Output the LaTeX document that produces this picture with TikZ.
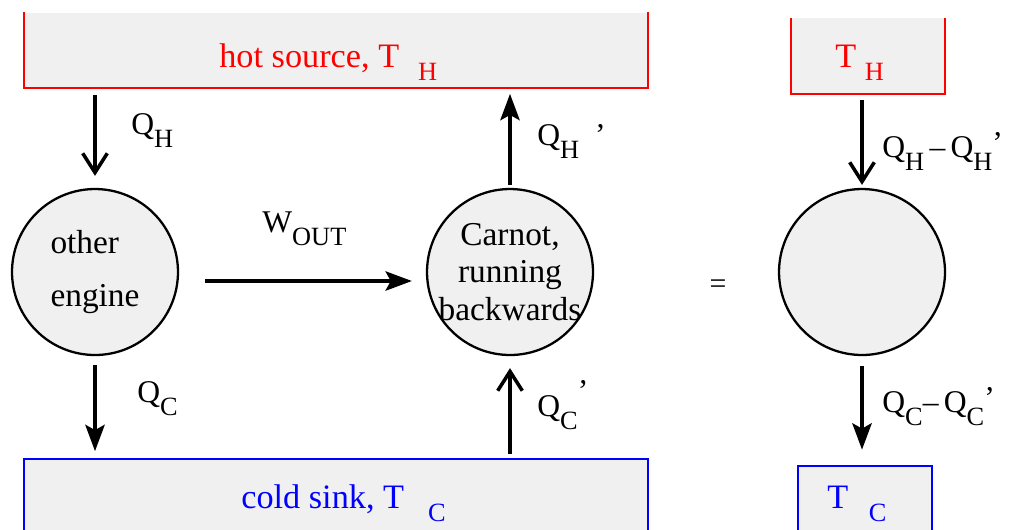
\documentclass[tikz,border=0pt]{standalone}
\usepackage{fontspec}
\setmainfont{Liberation Serif}
\usetikzlibrary{positioning,arrows.meta}

\newcommand{\lowsub}[1]{\raisebox{-7.5pt}{\fontsize{15}{15}\selectfont #1}}
\newcommand{\primesub}[1]{\raisebox{-7.5pt}{\fontsize{15}{15}\selectfont #1}\raisebox{2pt}{’}}

\begin{document}
\begin{tikzpicture}[
    x=0.02cm, y=-0.02cm,
    font=\fontsize{19.5}{23}\selectfont,
    reservoir/.style={fill=gray!12, minimum height=#1, inner sep=0pt},
    resname/.style={anchor=base west, inner sep=0pt, text=#1},
    engine/.style={circle, draw, fill=gray!12, line width=1.3pt, minimum size=3.32cm, inner sep=-0.4cm, align=center},
    flowlabel/.style={anchor=base west, font=\fontsize{18}{18}\selectfont, inner sep=0pt},
    solidflow/.style={line width=2pt, -{Stealth[length=15pt, width=11pt, inset=3pt]}},
    openflow/.style={line width=2pt, -{Straight Barb[length=11pt, width=14pt, line width=2pt]}},
]
    \clip (0,0) rectangle (1016,529);

    % reservoirs
    \node[reservoir=1.5cm, minimum width=12.46cm] (hot) at (336,50) {};
    \node[reservoir=1.5cm, minimum width=12.46cm] (cold) at (336,497) {};
    \node[reservoir=1.52cm, minimum width=3.06cm] (thot) at (868,56) {};
    \node[reservoir=1.48cm, minimum width=2.68cm] (tcold) at (865,503) {};
    \draw[red, line width=1.3pt] (hot.north west) |- (hot.south east) -- (hot.north east);
    \draw[red, line width=1.3pt] (thot.north west) |- (thot.south east) -- (thot.north east);
    \draw[blue, line width=1.3pt] (cold.south west) |- (cold.north east) -- (cold.south east);
    \draw[blue, line width=1.3pt] (tcold.south west) |- (tcold.north east) -- (tcold.south east);

    \node[resname=red] (hotname) at (219,67) {hot source, T\hspace{0.55em}\lowsub{H}};
    \node[resname=blue] (coldname) at (241,508) {cold sink, T\hspace{0.7em}\lowsub{C}};
    \node[resname=red] (thotname) at (835,67) {T\hspace{0.25em}\lowsub{H}};
    \node[resname=blue] (tcoldname) at (827,508) {T\hspace{0.6em}\lowsub{C}};

    % engines
    \node[engine, align=left, font=\fontsize{19}{30}\selectfont] (other) at (95,272) {other\\engine};
    \node[engine, font=\fontsize{19}{21.5}\selectfont] (carnot) at (510,272) {Carnot,\\running\\backwards};
    \node[engine] (net) at (862,272) {};
    \node (eq) at (718,287) {\fontsize{17}{17}\selectfont =};

    % heat and work flows
    \draw[openflow, shorten <=0.15cm, shorten >=0.24cm] (hot.south -| other.north) -- (other.north);
    \draw[solidflow, shorten <=0.18cm, shorten >=0.16cm] (other.south) -- (cold.north -| other.south);
    \draw[solidflow, shorten <=0.06cm, shorten >=0.12cm] (carnot.north) -- (hot.south -| carnot.north);
    \draw[openflow, shorten <=0.1cm, shorten >=0.24cm] (cold.north -| carnot.south) -- (carnot.south);
    \draw[solidflow, shorten <=0.52cm, shorten >=0.28cm] ([yshift=-0.18cm]other.east) -- ([yshift=-0.18cm]carnot.west);
    \draw[openflow, shorten <=0.12cm, shorten >=0.06cm] (thot.south -| net.north) -- (net.north);
    \draw[solidflow, shorten <=0.2cm, shorten >=0.32cm] (net.south) -- (tcold.north -| net.south);

    \node[flowlabel] (qh) at (131,134) {Q\lowsub{H}};
    \node[flowlabel] (qc) at (137,402) {Q\lowsub{C}};
    \node[flowlabel] (qhp) at (537,145) {Q\lowsub{H}\hspace{0.5em}’};
    \node[flowlabel] (qcp) at (537,416) {Q\lowsub{C}\raisebox{0.45em}{’}};
    \node[flowlabel] (wout) at (262,232) {W\lowsub{OUT}};
    \node[flowlabel] (qnet) at (882,157) {Q\lowsub{H}\,–\,Q\primesub{H}};
    \node[flowlabel] (qcnet) at (882,412) {Q\lowsub{C}–\,Q\primesub{C}};
\end{tikzpicture}
\end{document}
